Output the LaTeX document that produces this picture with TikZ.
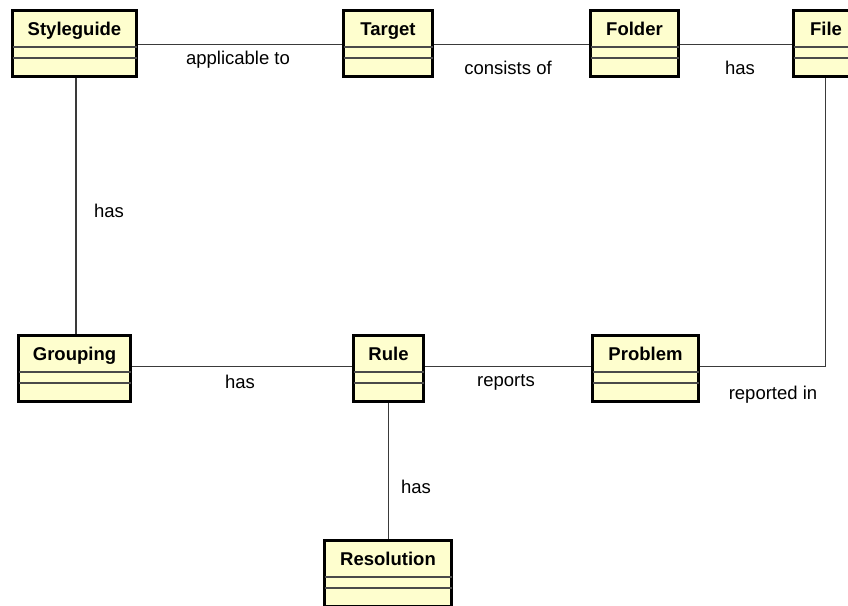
\documentclass[tikz,border=0pt]{standalone}
\usepackage{fontspec}
\setmainfont{Liberation Sans}
\definecolor{boxfill}{HTML}{FEFECE}
\definecolor{linkgray}{HTML}{3A3A3A}
\definecolor{sepgray}{HTML}{4A4A4A}
\begin{document}
\begin{tikzpicture}[x=1pt,y=-1pt,
  every node/.style={font=\fontsize{18.5}{22}\selectfont},
  classbox/.style={draw=black, line width=3pt, fill=boxfill, inner xsep=0pt,
    inner ysep=0pt, text height=25.5pt, text depth=40.5pt, anchor=north,
    font=\fontsize{18.5}{22}\selectfont\bfseries},
  link/.style={draw=linkgray, line width=1.4pt},
  linklabel/.style={inner sep=0pt, anchor=center},
  sep/.style={draw=sepgray, line width=1.4pt}]
\clip (0,0) rectangle (848,605);
\fill[white] (0,0) rectangle (848,605);

% classes
\node[classbox, minimum width=124pt] (sg) at (74.5,8.5) {Styleguide};
\node[classbox, minimum width=89pt]  (tg) at (388,8.5) {Target};
\node[classbox, minimum width=88pt]  (fd) at (634.5,8.5) {Folder};
\node[classbox, minimum width=65pt]  (fl) at (826,8.5) {File};
\node[classbox, minimum width=112pt] (gp) at (74.5,333.5) {Grouping};
\node[classbox, minimum width=70pt]  (rl) at (388.5,333.5) {Rule};
\node[classbox, minimum width=106pt] (pb) at (645.5,333.5) {Problem};
\node[classbox, minimum width=127pt] (rs) at (388,538.5) {Resolution};

% compartment separators
\foreach \n in {sg,tg,fd,fl,gp,rl,pb,rs}{
  \draw[sep] ([yshift=-38.5pt,xshift=1.5pt]\n.north west) -- ([yshift=-38.5pt,xshift=-1.5pt]\n.north east);
  \draw[sep] ([yshift=-49.5pt,xshift=1.5pt]\n.north west) -- ([yshift=-49.5pt,xshift=-1.5pt]\n.north east);
}

% associations
\draw[link] ([yshift=-1.5pt]sg.east) -- ([yshift=-1.5pt]tg.west);
\draw[link] ([yshift=-1.5pt]tg.east) -- ([yshift=-1.5pt]fd.west);
\draw[link] ([yshift=-1.5pt]fd.east) -- ([yshift=-1.5pt]fl.west);
\draw[link] ([xshift=1.5pt]sg.south) -- ([xshift=1.5pt]gp.north);
\draw[link] ([yshift=1.5pt]gp.east) -- ([yshift=1.5pt]rl.west);
\draw[link] ([yshift=1.5pt]rl.east) -- ([yshift=1.5pt]pb.west);
\draw[link] ([yshift=1.5pt]pb.east) -| ([xshift=-0.5pt]fl.south);
\draw[link] (rl.south) -- (rl.south |- rs.north);

% association labels
\node[linklabel] (l1) at (238,60) {applicable to};
\node[linklabel] (l2) at (508,68) {consists of};
\node[linklabel] (l3) at (740,68) {has};
\node[linklabel] (l4) at (109,211) {has};
\node[linklabel] (l5) at (240,382) {has};
\node[linklabel] (l6) at (506,382) {reports};
\node[linklabel] (l7) at (773,395) {reported in};
\node[linklabel] (l8) at (416,487) {has};
\end{tikzpicture}
\end{document}
